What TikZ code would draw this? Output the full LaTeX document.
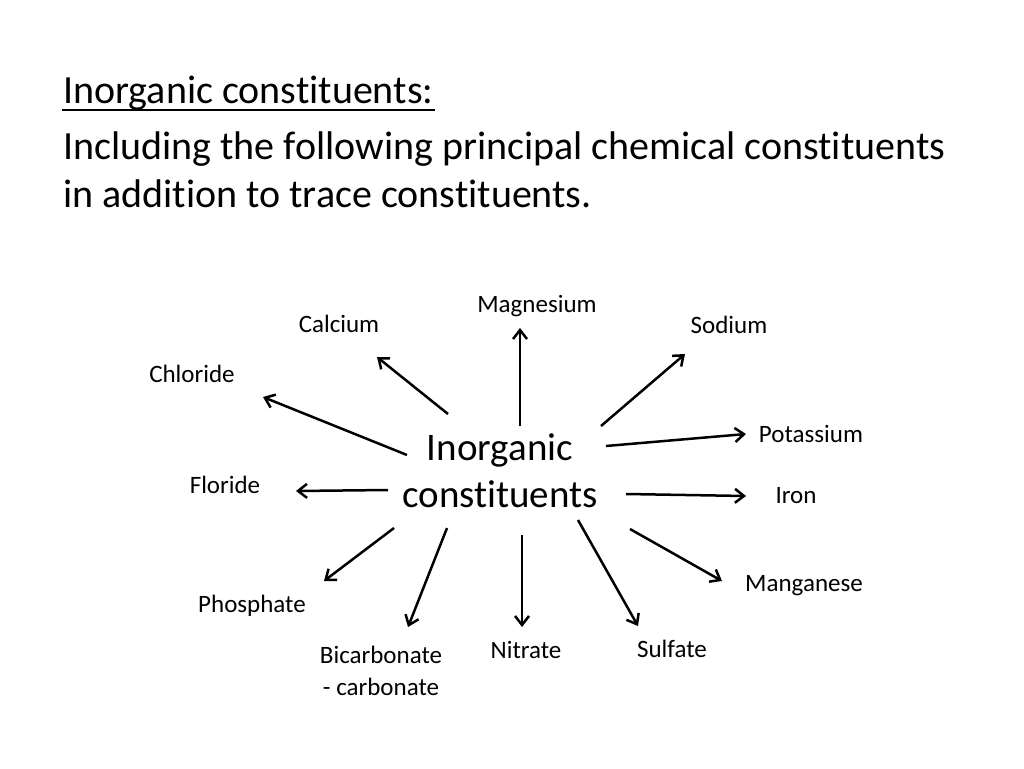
\documentclass[tikz,border=0pt]{standalone}
\usepackage{fontspec}
\setmainfont{Carlito}[Ligatures={NoCommon}]
\usetikzlibrary{arrows.meta}

\begin{document}
\begin{tikzpicture}[
            x = 1pt, y = -1pt, % pixel grid, y going down
            > = {Straight Barb[length=9pt, width=14pt]}, % arrow head style
            line width = 2.5pt,
            every node/.style = {inner sep = 0pt}
        ]

        \tikzstyle{heading}=[
            anchor = base west,
            font = \fontsize{40}{48}\selectfont
        ]
        \tikzstyle{hub}=[
            anchor = base, % baseline of the last line
            align = center,
            font = \fontsize{39}{47}\selectfont
        ]
        \tikzstyle{element}=[
            anchor = base,
            align = center,
            font = \fontsize{25}{32}\selectfont
        ]

        \useasboundingbox (0, 0) rectangle (1024, 768);

        % heading
        \node[heading] (title) at (62, 103) {Inorganic constituents:};
        \draw[line width = 2pt] ([yshift=-7pt]title.base west) -- ([yshift=-7pt]title.base east);
        \node[heading] (lineA) at (62, 159) {Including the following principal chemical constituents};
        \node[heading] (lineB) at (62, 207) {in addition to trace constituents.};

        % centre and elements
        \node[hub] (hub) at (500, 507) {Inorganic\\constituents};

        \node[element] (magnesium) at (537, 312) {Magnesium};
        \node[element] (calcium) at (339, 332) {Calcium};
        \node[element] (chloride) at (192, 382) {Chloride};
        \node[element] (floride) at (225, 493) {Floride};
        \node[element] (phosphate) at (252, 612) {Phosphate};
        \node[element] (bicarbonate) at (381, 695) {Bicarbonate\\- carbonate};
        \node[element] (nitrate) at (526, 658) {Nitrate};
        \node[element] (sulfate) at (672, 657) {Sulfate};
        \node[element] (manganese) at (804, 591) {Manganese};
        \node[element] (iron) at (796, 503) {Iron};
        \node[element] (potassium) at (811, 442) {Potassium};
        \node[element] (sodium) at (729, 333) {Sodium};

        \draw[->] ([shift={(20,-81)}]hub.base) -- ([shift={(-17,16)}]magnesium.base);
        \draw[->] ([shift={(-52,-93)}]hub.base) -- ([shift={(38,25)}]calcium.base);
        \draw[->] ([shift={(-93,-52)}]hub.base) -- ([shift={(71,15)}]chloride.base);
        \draw[->] ([shift={(-112,-17)}]hub.base) -- ([shift={(71,-2)}]floride.base);
        \draw[->] ([shift={(-106,21)}]hub.base) -- ([shift={(72,-31)}]phosphate.base);
        \draw[->] ([shift={(-53,21)}]hub.base) -- ([shift={(27,-68)}]bicarbonate.base);
        \draw[->] ([shift={(22,28)}]hub.base) -- ([shift={(-4,-31)}]nitrate.base);
        \draw[->] ([shift={(78,13)}]hub.base) -- ([shift={(-34,-31)}]sulfate.base);
        \draw[->] ([shift={(130,22)}]hub.base) -- ([shift={(-82,-10)}]manganese.base);
        \draw[->] ([shift={(126,-13)}]hub.base) -- ([shift={(-50,-7)}]iron.base);
        \draw[->] ([shift={(106,-61)}]hub.base) -- ([shift={(-65,-8)}]potassium.base);
        \draw[->] ([shift={(101,-81)}]hub.base) -- ([shift={(-44,21)}]sodium.base);

        %\draw[red, dashed] (500, 0) -- (500, 768);
    \end{tikzpicture}
\end{document}
